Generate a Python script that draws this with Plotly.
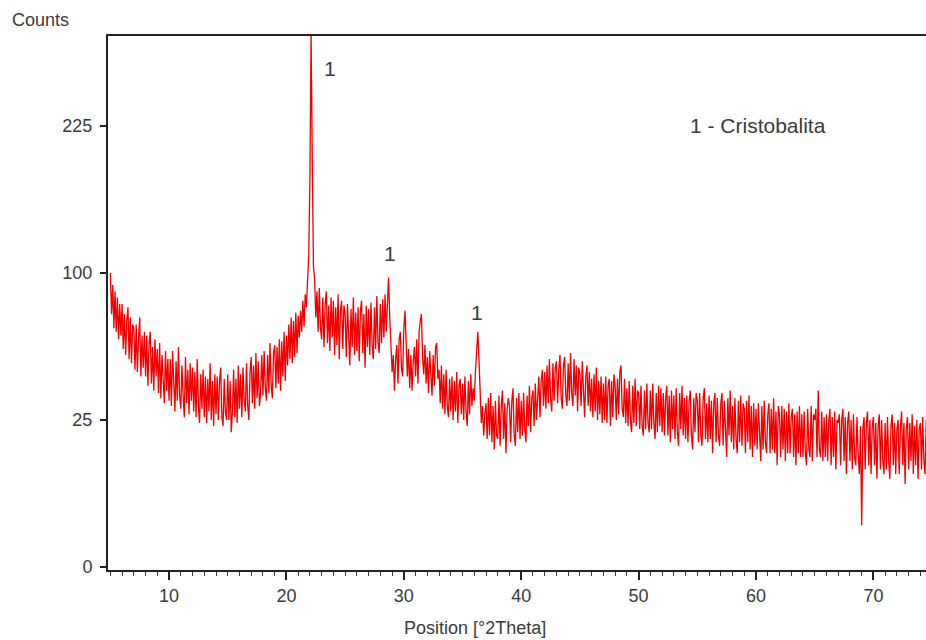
import numpy as np
import plotly.graph_objects as go

# Scan grid (instrument step)
scan_start = 5.0
scan_step = 0.1

counts_05_15 = [
    100, 74, 92, 66, 88, 64, 84, 60, 80, 62,
    80, 55, 74, 52, 70, 78, 50, 72, 48, 68,
    66, 45, 68, 44, 60, 72, 42, 62, 46, 64,
    42, 62, 38, 58, 64, 39, 56, 36, 60, 42,
    55, 35, 58, 33, 52, 40, 31, 54, 36, 50,
    32, 50, 30, 54, 36, 28, 49, 32, 56, 34,
    29, 47, 34, 26, 51, 31, 45, 27, 48, 32,
    46, 28, 44, 26, 50, 30, 24, 43, 29, 45,
    26, 42, 24, 41, 28, 48, 25, 40, 23, 43,
    27, 42, 25, 40, 46, 26, 23, 41, 28, 25,
]
counts_15_25 = [
    43, 25, 40, 21, 28, 45, 26, 41, 24, 47,
    29, 43, 26, 46, 32, 28, 48, 30, 25, 44,
    51, 31, 47, 29, 53, 33, 49, 30, 35, 52,
    34, 54, 37, 32, 52, 35, 58, 38, 33, 53,
    57, 37, 56, 39, 60, 36, 59, 42, 64, 40,
    62, 47, 68, 50, 72, 48, 70, 51, 75, 53,
    73, 61, 76, 64, 82, 67, 86, 78, 95, 112,
    175, 330, 190, 105, 96, 72, 88, 64, 90, 66,
    60, 84, 56, 80, 88, 58, 79, 54, 84, 61,
    82, 52, 78, 57, 86, 50, 76, 82, 55, 79,
]
counts_25_35 = [
    74, 51, 80, 55, 47, 77, 56, 84, 52, 75,
    54, 78, 49, 76, 82, 53, 74, 46, 79, 56,
    77, 52, 81, 57, 50, 78, 55, 85, 58, 53,
    80, 58, 83, 61, 86, 64, 82, 97, 72, 54,
    44, 52, 36, 50, 57, 39, 60, 64, 46, 42,
    66, 76, 52, 42, 55, 37, 52, 36, 49, 56,
    42, 60, 39, 64, 70, 74, 50, 43, 57, 39,
    51, 35, 54, 40, 34, 52, 38, 56, 58, 41,
    45, 31, 47, 29, 43, 27, 45, 30, 26, 41,
    28, 42, 25, 40, 28, 44, 24, 38, 41, 27,
]
counts_35_45 = [
    39, 25, 42, 28, 23, 40, 27, 43, 30, 37,
    32, 44, 58, 64, 50, 38, 24, 30, 20, 27,
    31, 19, 33, 20, 35, 18, 30, 16, 32, 20,
    19, 34, 17, 30, 36, 19, 31, 15, 29, 33,
    30, 18, 32, 37, 20, 17, 33, 21, 35, 19,
    32, 20, 35, 22, 18, 34, 23, 38, 21, 33,
    36, 23, 39, 25, 37, 42, 26, 40, 45, 30,
    44, 29, 47, 31, 50, 33, 28, 48, 32, 46,
    49, 31, 45, 52, 33, 29, 47, 51, 34, 30,
    48, 32, 53, 35, 30, 50, 34, 47, 28, 46,
]
counts_45_55 = [
    43, 30, 49, 34, 26, 42, 47, 30, 44, 28,
    41, 26, 43, 28, 46, 25, 40, 27, 42, 24,
    39, 25, 42, 24, 38, 41, 23, 40, 26, 43,
    38, 25, 41, 27, 44, 47, 29, 26, 41, 24,
    37, 23, 40, 25, 21, 38, 24, 41, 23, 36,
    35, 22, 38, 23, 20, 36, 22, 39, 24, 21,
    36, 22, 39, 24, 19, 35, 21, 38, 23, 37,
    21, 35, 20, 33, 38, 20, 34, 18, 36, 22,
    34, 19, 37, 21, 17, 35, 22, 38, 20, 33,
    19, 34, 18, 32, 36, 20, 16, 33, 21, 35,
]
counts_55_65 = [
    32, 18, 35, 20, 17, 33, 37, 19, 31, 18,
    34, 19, 32, 15, 31, 35, 18, 33, 20, 17,
    31, 35, 17, 32, 19, 14, 33, 20, 36, 18,
    30, 16, 33, 19, 15, 32, 18, 34, 17, 31,
    29, 15, 32, 18, 34, 16, 30, 14, 31, 17,
    29, 16, 31, 17, 13, 30, 16, 32, 18, 15,
    27, 31, 15, 29, 16, 33, 15, 28, 12, 30,
    27, 14, 30, 16, 29, 13, 28, 15, 31, 15,
    26, 29, 14, 27, 12, 28, 15, 30, 14, 27,
    14, 28, 15, 12, 29, 16, 14, 30, 13, 27,
]
counts_65_75 = [
    25, 29, 14, 36, 16, 14, 28, 13, 26, 14,
    27, 13, 25, 29, 12, 26, 14, 28, 11, 25,
    24, 27, 12, 25, 29, 13, 26, 10, 24, 28,
    13, 25, 11, 27, 14, 12, 26, 15, 10, 23,
    2, 22, 26, 11, 24, 28, 12, 25, 10, 23,
    26, 12, 24, 9, 23, 27, 11, 25, 13, 10,
    24, 11, 26, 13, 9, 23, 27, 12, 24, 10,
    22, 25, 10, 23, 28, 12, 24, 8, 22, 26,
    11, 24, 13, 27, 10, 23, 12, 25, 9, 22,
    24, 11, 26, 13, 10, 25, 14, 27, 12, 24,
    18,
]

y_tick_values = [0, 25, 100, 225]
x_tick_values = [10, 20, 30, 40, 50, 60, 70]

peak_label_text = ["1", "1", "1"]
peak_label_x = [23.7, 28.8, 36.25]
peak_label_counts = [287, 114, 75]

legend_text = "1 - Cristobalita"
x_title = "Position [°2Theta]"
y_title = "Counts"

counts = np.array(counts_05_15 + counts_15_25 + counts_25_35 + counts_35_45
                  + counts_45_55 + counts_55_65 + counts_65_75, dtype=float)
two_theta = np.round(scan_start + scan_step * np.arange(len(counts)), 2)

# square-root intensity scale
def sq(v):
    return np.sqrt(np.asarray(v, dtype=float))

FONT = "Liberation Sans, Arial, sans-serif"
TXT = "#3a3a3a"

fig = go.Figure()
fig.add_trace(go.Scatter(
    x=two_theta, y=sq(counts), mode="lines",
    line=dict(color="#f00000", width=1.3),
    hoverinfo="skip", showlegend=False,
))

for t, xx, cc in zip(peak_label_text, peak_label_x, peak_label_counts):
    fig.add_annotation(x=xx, y=float(sq(cc)), text=t, showarrow=False,
                       font=dict(family=FONT, size=21, color=TXT),
                       xanchor="center", yanchor="middle")

fig.add_annotation(x=60.2, y=float(sq(226)), text=legend_text, showarrow=False,
                   font=dict(family=FONT, size=21, color=TXT),
                   xanchor="center", yanchor="middle")

fig.add_annotation(xref="paper", yref="paper", x=-0.12, y=1.03, text=y_title,
                   showarrow=False, xanchor="left", yanchor="middle",
                   font=dict(family=FONT, size=18, color=TXT))
fig.add_annotation(xref="paper", yref="paper", x=0.4487, y=-0.1086, text=x_title,
                   showarrow=False, xanchor="center", yanchor="middle",
                   font=dict(family=FONT, size=18, color=TXT))

fig.update_layout(
    width=926, height=640,
    margin=dict(l=108, r=0, t=36, b=70),
    paper_bgcolor="white", plot_bgcolor="white",
    showlegend=False,
    font=dict(family=FONT, size=18, color=TXT),
)
fig.update_xaxes(
    range=[4.8, 74.48], showgrid=False, zeroline=False,
    showline=True, linecolor="#222", linewidth=2, mirror=True,
    ticks="outside", ticklen=8, tickwidth=1.5, tickcolor="#222",
    tickvals=x_tick_values, ticktext=[str(v) for v in x_tick_values],
    minor=dict(dtick=1, ticks="outside", ticklen=4, tickwidth=1, tickcolor="#333", showgrid=False),
    tickfont=dict(family=FONT, size=18, color=TXT),
)
fig.update_yaxes(
    range=[-0.1, 18.06], showgrid=False, zeroline=False,
    showline=True, linecolor="#222", linewidth=2,
    ticks="outside", ticklen=6, tickwidth=1.5, tickcolor="#222",
    tickvals=list(sq(y_tick_values)), ticktext=[str(v) for v in y_tick_values],
    ticklabelstandoff=4,
    tickfont=dict(family=FONT, size=18, color=TXT),
)

fig.write_html("out.html")
